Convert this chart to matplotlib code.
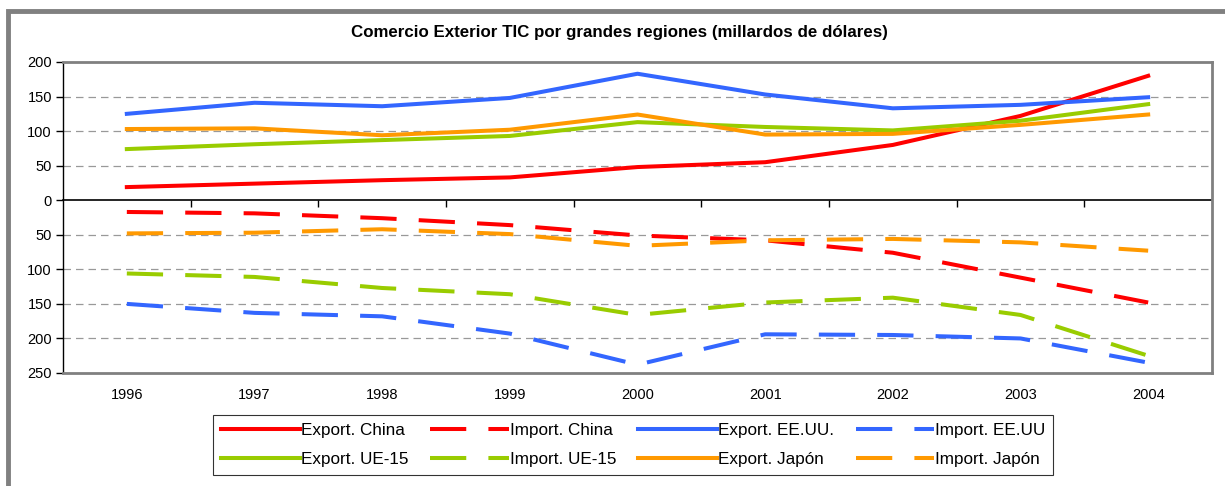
import matplotlib.pyplot as plt
from matplotlib.patches import Rectangle
from matplotlib.ticker import FuncFormatter
import numpy as np

plt.rcParams['font.family'] = ['Liberation Sans', 'DejaVu Sans']

years = [1996, 1997, 1998, 1999, 2000, 2001, 2002, 2003, 2004]

# exportaciones (positivo) e importaciones (se dibujan hacia abajo)
exp_china = [19, 24, 29, 33, 48, 55, 80, 122, 180]
imp_china = [17, 19, 26, 36, 51, 58, 76, 112, 148]
exp_eeuu = [125, 141, 136, 148, 183, 153, 133, 138, 149]
imp_eeuu = [150, 163, 168, 193, 238, 194, 195, 200, 235]
exp_ue15 = [74, 81, 87, 93, 113, 106, 101, 115, 139]
imp_ue15 = [106, 111, 127, 136, 166, 148, 141, 166, 225]
exp_japon = [103, 104, 94, 102, 124, 95, 96, 109, 124]
imp_japon = [48, 47, 42, 49, 66, 58, 56, 61, 73]

rojo = '#FF0000'
azul = '#3366FF'
verde = '#99CC00'
naranja = '#FF9900'

fig = plt.figure(figsize=(12.25, 4.86), dpi=100)

# marco exterior gris
fig.patches.append(Rectangle((8 / 1225, -0.1), 1.2, (486 - 11) / 486 + 0.1,
                             transform=fig.transFigure, fill=False,
                             edgecolor='#808080', linewidth=3.5))

ax = fig.add_axes([63 / 1225, 113 / 486, 1149 / 1225, 311 / 486])

lw = 2.9
dash = (0, (9, 5.5))
ax.plot(years, exp_china, color=rojo, lw=lw, label='Export. China')
ax.plot(years, -np.array(imp_china), color=rojo, lw=lw, ls=dash, label='Import. China')
ax.plot(years, exp_eeuu, color=azul, lw=lw, label='Export. EE.UU.')
ax.plot(years, -np.array(imp_eeuu), color=azul, lw=lw, ls=dash, label='Import. EE.UU')
ax.plot(years, exp_ue15, color=verde, lw=lw, label='Export. UE-15')
ax.plot(years, -np.array(imp_ue15), color=verde, lw=lw, ls=dash, label='Import. UE-15')
ax.plot(years, exp_japon, color=naranja, lw=lw, label='Export. Japón')
ax.plot(years, -np.array(imp_japon), color=naranja, lw=lw, ls=dash, label='Import. Japón')

ax.set_xlim(years[0] - 0.5, years[-1] + 0.5)
ax.set_ylim(-250, 200)
ax.set_yticks(np.arange(-250, 201, 50))
ax.yaxis.set_major_formatter(FuncFormatter(lambda v, p: f'{abs(int(v))}'))
ax.tick_params(axis='y', direction='out', length=5, width=1, labelsize=10.5, pad=3)

for g in [150, 100, 50, -50, -100, -150, -200]:
    ax.axhline(g, color='#999999', lw=0.9, ls=(0, (6, 4)), zorder=0)

ax.set_xticks(years)
ax.set_xticklabels([str(y) for y in years])
ax.tick_params(axis='x', length=0, labelsize=10.5, pad=11)

for s in ['top', 'right', 'bottom']:
    ax.spines[s].set_color('#808080')
    ax.spines[s].set_linewidth(2)
ax.spines['left'].set_color('black')
ax.spines['left'].set_linewidth(1)

# eje de categorias en el cero
sec = ax.secondary_xaxis(0, transform=ax.transData)
sec.spines['bottom'].set_color('black')
sec.spines['bottom'].set_linewidth(1.2)
sec.set_xticks(np.array(years[:-1]) + 0.5)
sec.tick_params(axis='x', direction='out', length=5, width=1, labelbottom=False)

fig.text(0.506, 0.934, 'Comercio Exterior TIC por grandes regiones (millardos de dólares)',
         ha='center', va='center', fontsize=12.2, fontweight='bold')

# orden por filas como en el original
h, l = ax.get_legend_handles_labels()
orden = [0, 4, 1, 5, 2, 6, 3, 7]
leg = fig.legend([h[i] for i in orden], [l[i] for i in orden],
                 loc='upper center', bbox_to_anchor=(0.517, 0.146), ncol=4,
                 fontsize=12.3, frameon=True, fancybox=False, edgecolor='black',
                 handlelength=4.6, handletextpad=0.05, columnspacing=1.3,
                 borderpad=0.45, labelspacing=0.85, borderaxespad=0)
leg.get_frame().set_linewidth(0.8)

fig.savefig('out.png', dpi=100)
